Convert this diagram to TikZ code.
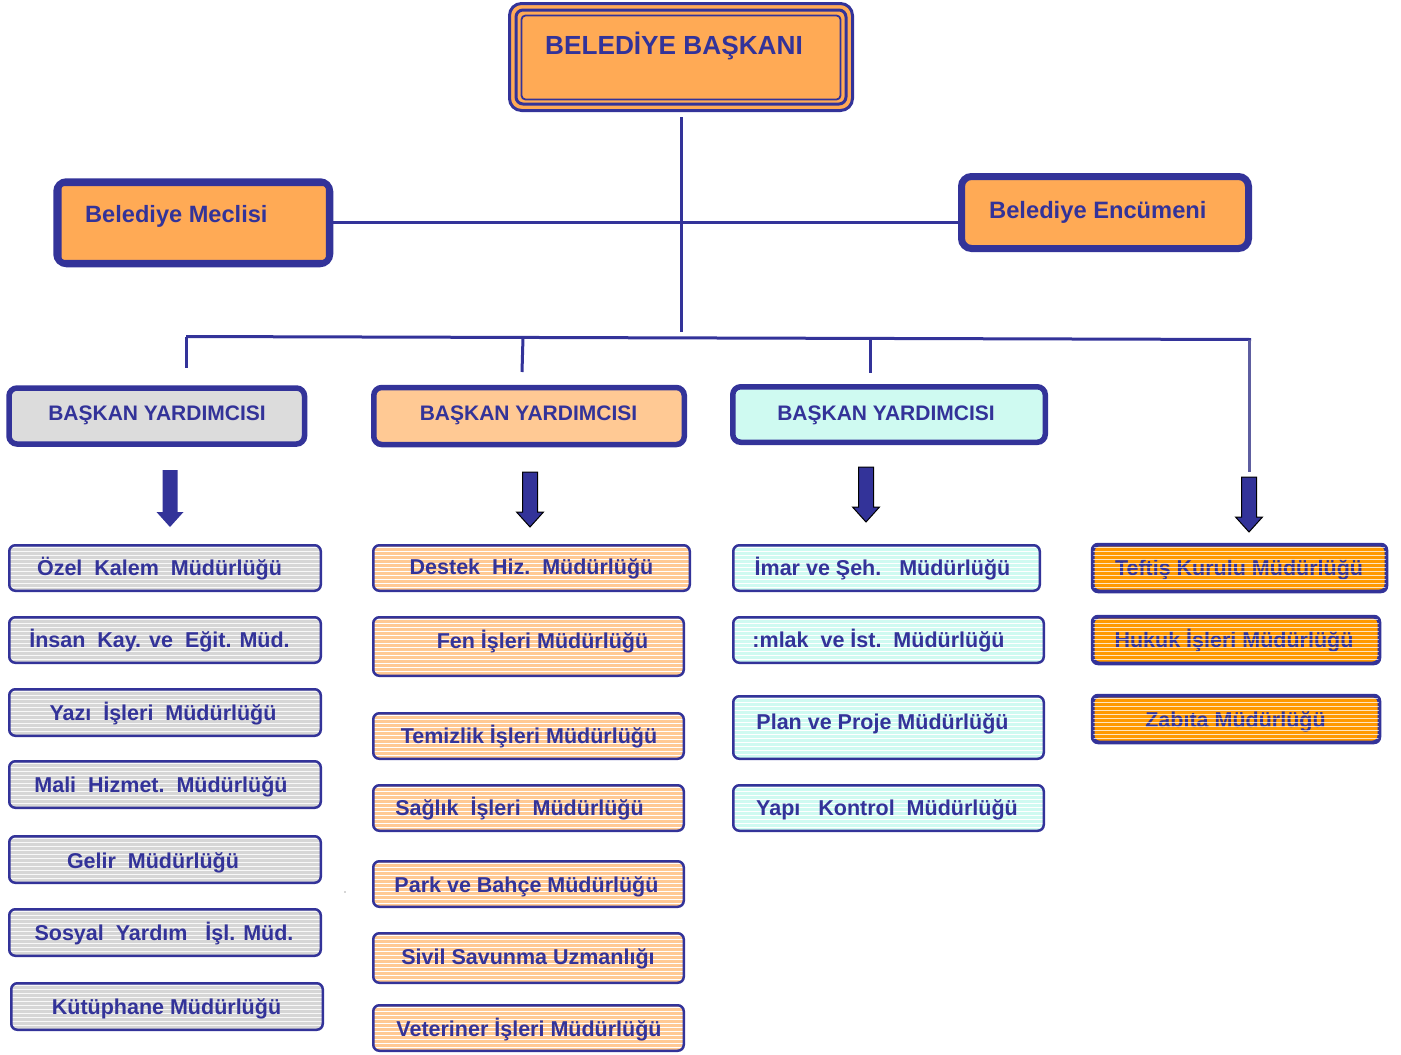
\documentclass[tikz,border=0pt]{standalone}
\usepackage{fontspec}
\setmainfont{Liberation Sans}
\definecolor{navy}{HTML}{333399}
\definecolor{topfill}{HTML}{FFAA55}
\definecolor{grayfill}{HTML}{D6D6D6}
\definecolor{peach}{HTML}{FFC994}
\definecolor{mint}{HTML}{CFFAF1}
\definecolor{orangefill}{HTML}{FF9900}
\definecolor{dropgray}{HTML}{5E5EA0}
\newcommand\dept[9]{%
  \node[#6, minimum width={#4-#2-2.5}, minimum height={#5-#3-2.5}] (#1) at ({(#2+#4)/2},{(#3+#5)/2}) {};
  \node[dtext, anchor=base] (#1-t) at (#7,#8) {#9};}
\newcommand\overstripe[1]{%
  \begin{scope}
    \clip[rounded corners=6pt] (#1.north west) rectangle (#1.south east);
    \foreach \k in {3,7,...,51}{\draw[white, line width=0.6pt, opacity=0.75] ([yshift=-\k pt]#1.north west) -- ([yshift=-\k pt]#1.north east);}
  \end{scope}
  \draw[navy, line width=2.5pt, rounded corners=6pt] (#1.north west) rectangle (#1.south east);}
\newcommand\blockarrow[5]{%
  \filldraw[#5] (#1-7.5,#2) -- (#1+7.5,#2) -- (#1+7.5,#3) -- (#1+13.5,#3) -- (#1,#4) -- (#1-13.5,#3) -- (#1-7.5,#3) -- cycle;}
\begin{document}
\begin{tikzpicture}[x=1pt,y=-1pt,
  dtext/.style={text=navy, font=\bfseries\fontsize{21.5}{24}\selectfont, inner sep=0pt},
  bytext/.style={text=navy, font=\bfseries\fontsize{21}{24}\selectfont, inner sep=0pt},
  conn/.style={draw=navy, line width=3pt},
  stripefill/.style={path picture={\foreach \k in {2,6,...,70}{\draw[#1] ([yshift=-\k pt]path picture bounding box.north west) -- ([yshift=-\k pt]path picture bounding box.north east);}}},
  deptbase/.style={draw=navy, line width=2.5pt, rounded corners=6pt, inner sep=0pt},
  gdept/.style={deptbase, fill=grayfill, stripefill={white, line width=1.5pt, opacity=0.85}},
  pdept/.style={deptbase, fill=peach, stripefill={white, line width=1pt}},
  cdept/.style={deptbase, fill=mint, stripefill={white, line width=1pt}},
  odept/.style={deptbase, fill=orangefill},
  bybox/.style={draw=navy, line width=5.5pt, rounded corners=8pt, inner sep=0pt},
  arrplain/.style={fill=navy, draw=none},
  arrline/.style={fill=navy, draw=black, line width=1pt}
]
\useasboundingbox (0,0) rectangle (1401,1055);

% ---- Belediye Baskani
\node[draw=navy, line width=3pt, rounded corners=12pt, fill=topfill, minimum width=343pt, minimum height=107pt, inner sep=0pt] (mayor) at (681,57) {};
\draw[navy, line width=3pt, rounded corners=7pt] ([shift={(8,8)}]mayor.north west) rectangle ([shift={(-8,-8)}]mayor.south east);
\draw[navy, line width=1.8pt, rounded corners=4pt] ([shift={(13.5,13.5)}]mayor.north west) rectangle ([shift={(-13.5,-12.5)}]mayor.south east);
\node[text=navy, font=\bfseries\fontsize{26.2}{30}\selectfont, inner sep=0pt, anchor=base] (mayor-t) at (674,54) {BELEDİYE BAŞKANI};

% ---- Meclis / Encumen
\node[draw=navy, line width=6.5pt, rounded corners=10pt, fill=topfill, minimum width=273.5pt, minimum height=82.5pt, inner sep=0pt] (meclis) at (193.25,222.75) {};
\draw[navy, line width=1.8pt, rounded corners=3pt] ([shift={(7.5,7)}]meclis.north west) rectangle ([shift={(-6.5,-6.5)}]meclis.south east);
\node[text=navy, font=\bfseries\fontsize{23.6}{27}\selectfont, inner sep=0pt, anchor=base west] (meclis-t) at (85,222) {Belediye Meclisi};

\node[draw=navy, line width=7pt, rounded corners=10pt, fill=topfill, minimum width=287pt, minimum height=72pt, inner sep=0pt] (encum) at (1105,212.5) {};
\draw[navy, line width=1.8pt, rounded corners=3pt] ([shift={(6,6)}]encum.north west) rectangle ([shift={(-5,-6)}]encum.south east);
\node[text=navy, font=\bfseries\fontsize{23.7}{27}\selectfont, inner sep=0pt, anchor=base west] (encum-t) at (989,218) {Belediye Encümeni};

% ---- connectors
\coordinate (hub) at (681,332);
\coordinate (busL) at (186,336.5);
\coordinate (busR) at (1251,339.5);
\coordinate (t2) at (523,337.5);
\coordinate (t3) at (870,338.5);
\coordinate (d1) at (186,368);
\coordinate (d2) at (522,372);
\coordinate (d3) at (870,373);
\coordinate (d4) at (1249.5,472);
\draw[conn] (meclis.east) -- (meclis.east -| encum.west);
\draw[conn] ([yshift=-5pt]mayor.south) -- (hub);
\draw[conn] (busL) -- (busR);
\draw[conn] (busL) -- (d1);
\draw[conn] (t2) -- (d2);
\draw[conn] (t3) -- (d3);
\draw[dropgray, line width=2.8pt] ([xshift=-1.5pt]busR) -- (d4);

% ---- Baskan yardimcilari
\node[bybox, fill=grayfill!85!white, minimum width=295.5pt, minimum height=56pt] (by1) at (156.75,416) {};
\node[bytext, anchor=base] (by1-t) at (157,420) {BAŞKAN YARDIMCISI};
\node[bybox, fill=peach, minimum width=310.5pt, minimum height=57pt] (by2) at (529,416) {};
\node[bytext, anchor=base] (by2-t) at (528.5,420) {BAŞKAN YARDIMCISI};
\node[bybox, fill=mint, minimum width=312.5pt, minimum height=55.5pt] (by3) at (889,414.5) {};
\node[bytext, anchor=base] (by3-t) at (886,420) {BAŞKAN YARDIMCISI};

% ---- arrows
\blockarrow{170}{470}{512}{527}{arrplain}
\blockarrow{530}{472}{512}{527}{arrline}
\blockarrow{866}{467}{507}{522}{arrline}
\blockarrow{1249}{477}{517}{532}{arrline}

% ---- column 1
\dept{g1}{8}{544}{322}{592}{gdept}{159.5}{575}{Özel\ \ Kalem\ \ Müdürlüğü}
\dept{g2}{8}{616}{322}{664}{gdept}{159.5}{647}{İnsan\ \ Kay. ve\ \ Eğit. Müd.}
\dept{g3}{8}{688}{322}{737}{gdept}{163}{720}{Yazı\ \ İşleri\ \ Müdürlüğü}
\dept{g4}{8}{760}{322}{809}{gdept}{161}{792}{Mali\ \ Hizmet.\ \ Müdürlüğü}
\dept{g5}{8}{835}{322}{884}{gdept}{153}{868}{Gelir\ \ Müdürlüğü}
\dept{g6}{8}{908}{322}{957}{gdept}{164}{940}{Sosyal\ \ Yardım\ \ \ İşl. Müd.}
\dept{g7}{10}{982}{324}{1031}{gdept}{166.5}{1014}{Kütüphane Müdürlüğü}

% ---- column 2
\dept{p1}{372}{544}{691}{592}{pdept}{531.5}{574}{Destek\ \ Hiz.\ \ Müdürlüğü}
\dept{p2}{372}{616}{685}{677}{pdept}{542.5}{648}{Fen İşleri Müdürlüğü}
\dept{p3}{372}{712}{685}{760}{pdept}{529}{743}{Temizlik İşleri Müdürlüğü}
\dept{p4}{372}{784}{685}{832}{pdept}{519.5}{815}{Sağlık\ \ İşleri\ \ Müdürlüğü}
\dept{p5}{372}{860}{685}{908}{pdept}{526.5}{892}{Park ve Bahçe Müdürlüğü}
\dept{p6}{372}{932}{685}{984}{pdept}{528}{964}{Sivil Savunma Uzmanlığı}
\dept{p7}{372}{1004}{685}{1052}{pdept}{529}{1036}{Veteriner İşleri Müdürlüğü}

% ---- column 3
\dept{c1}{732}{544}{1041}{592}{cdept}{882.5}{575}{İmar ve Şeh.\ \ \ Müdürlüğü}
\dept{c2}{732}{616}{1045}{664}{cdept}{878.5}{647}{:mlak\ \ ve İst.\ \ Müdürlüğü}
\dept{c3}{732}{695}{1045}{760}{cdept}{882.5}{729}{Plan ve Proje Müdürlüğü}
\dept{c4}{732}{784}{1045}{832}{cdept}{887}{815}{Yapı\ \ \ Kontrol\ \ Müdürlüğü}

% ---- column 4
\dept{o1}{1092}{544}{1387}{592}{odept}{1239}{575}{Teftiş Kurulu Müdürlüğü}
\dept{o2}{1092}{616}{1380}{664}{odept}{1234}{647}{Hukuk İşleri Müdürlüğü}
\dept{o3}{1092}{695}{1380}{743}{odept}{1235.5}{727}{Zabıta Müdürlüğü}
\overstripe{o1}
\overstripe{o2}
\overstripe{o3}

% stray dot
\fill[black!70] (345,892) circle (0.7pt);
\end{tikzpicture}
\end{document}
